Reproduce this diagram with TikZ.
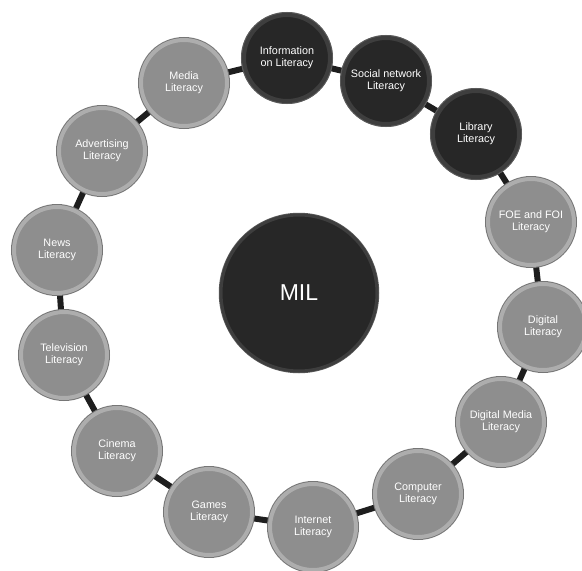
\documentclass[tikz,border=0pt]{standalone}
\usepackage{fontspec}
\setmainfont{Liberation Sans}
\usetikzlibrary{positioning,backgrounds}
\definecolor{grayfill}{HTML}{8E8E8E}
\definecolor{grayring}{HTML}{ADADAD}
\definecolor{grayedge}{HTML}{767676}
\definecolor{darkfill}{HTML}{272727}
\definecolor{darkring}{HTML}{3E3E3E}
\definecolor{darkedge}{HTML}{5A5A5A}
\definecolor{linkcol}{HTML}{1E1E1E}
\tikzset{
  litgray/.style={circle,minimum size=86pt,inner sep=0pt,align=center,
    fill=grayfill,draw=grayring,line width=4pt,
    preaction={draw=grayedge,line width=6pt},
    text=white,font=\fontsize{10.8}{12.3}\selectfont},
  litdark/.style={litgray,fill=darkfill,draw=darkring,
    preaction={draw=darkedge,line width=6pt}},
  milbox/.style={circle,minimum size=156pt,inner sep=0pt,
    fill=darkfill,draw=darkring,line width=3pt,
    preaction={draw=darkedge,line width=4.5pt},
    text=white,font=\fontsize{23}{28}\selectfont},
  link/.style={draw=linkcol,line width=6pt}
}

\begin{document}
\begin{tikzpicture}[x=1pt,y=-1pt]
\useasboundingbox (0,0) rectangle (582,571);
\node[milbox] (mil) at (299,293) {MIL};
\node[litdark] (info) at (287,58) {Information\\on Literacy};
\node[litdark] (social) at (386,81) {Social network\\Literacy};
\node[litdark] (library) at (476,134) {Library\\Literacy};
\node[litgray] (foe) at (531,222) {FOE and FOI\\Literacy};
\node[litgray] (digital) at (543,327) {Digital\\Literacy};
\node[litgray] (digmedia) at (501,422) {Digital Media\\Literacy};
\node[litgray] (computer) at (418,494) {Computer\\Literacy};
\node[litgray] (internet) at (313,527) {Internet\\Literacy};
\node[litgray] (games) at (209,512) {Games\\Literacy};
\node[litgray] (cinema) at (117,451) {Cinema\\Literacy};
\node[litgray] (tv) at (64,355) {Television\\Literacy};
\node[litgray] (news) at (57,250) {News\\Literacy};
\node[litgray] (advert) at (102,151) {Advertising\\Literacy};
\node[litgray] (media) at (184,83) {Media\\Literacy};
\begin{scope}[on background layer]
\draw[link] (info.center) -- (social.center) -- (library.center) -- (foe.center)
  -- (digital.center) -- (digmedia.center) -- (computer.center)
  -- (internet.center) -- (games.center) -- (cinema.center) -- (tv.center)
  -- (news.center) -- (advert.center) -- (media.center) -- (info.center);
\end{scope}
\end{tikzpicture}
\end{document}
